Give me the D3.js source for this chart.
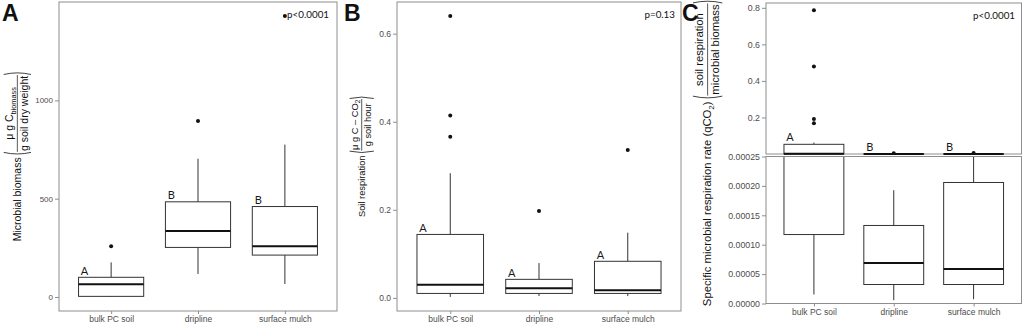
<!DOCTYPE html>
<html>
<head>
<meta charset="utf-8">
<script src="https://cdn.jsdelivr.net/npm/d3@7"></script>
<style>
  body { margin: 0; background: #fff; }
  svg { display: block; font-family: "Liberation Sans", Arial, sans-serif; }
</style>
</head>
<body>
<div id="wrapper"></div>
<script>
// categories shared by the three panels
const categories = ["bulk PC soil", "dripline", "surface mulch"];

// box stats are [lower whisker, Q1, median, Q3, upper whisker]
const biomassBoxes = [
    [0, 3, 64, 100, 176],
    [117, 252, 336, 484, 703],
    [66, 213, 258, 460, 775]
];
const biomassOutliers = [[258], [895], [1429]];
const biomassLetters = ["A", "B", "B"];
const biomassTicks = [0, 500, 1000];

const respBoxes = [
    [0.002, 0.010, 0.030, 0.144, 0.283],
    [0.004, 0.010, 0.022, 0.042, 0.079],
    [0.004, 0.010, 0.017, 0.083, 0.148]
];
const respOutliers = [[0.366, 0.414, 0.640], [0.197], [0.336]];
const respLetters = ["A", "A", "A"];
const respTicks = [0, 0.2, 0.4, 0.6];

const qco2Boxes = [
    [0.0000153, 0.0001173, 0.0015, 0.053, 0.0625],
    [0.0000056, 0.0000323, 0.000069, 0.0001327, 0.0001927],
    [0.0000073, 0.0000323, 0.0000588, 0.0002058, 0.0004]
];
const qco2Outliers = [[0.168, 0.191, 0.479, 0.787], [0.004], [0.006]];
const qco2Letters = ["A", "B", "B"];
const qco2UpperTicks = [0.2, 0.4, 0.6, 0.8];
const qco2LowerTicks = [0, 0.00005, 0.0001, 0.00015, 0.0002, 0.00025];
const qco2Break = 0.00025;

const panelNames = ["A", "B", "C"];
const pValues = ["p<0.0001", "p=0.13", "p<0.0001"];

const svg = d3.select("#wrapper")
    .append("svg")
    .attr("width", 1024)
    .attr("height", 326);

const frameColor = "#8e8e8e";
const boxColor = "#333";

function styleAxis(g, size) {
    g.select(".domain").remove();
    g.selectAll(".tick line").attr("stroke", frameColor);
    g.selectAll(".tick text")
        .attr("fill", "#4d4d4d")
        .style("font-size", size + "px")
        .style("font-family", "'Liberation Sans', Arial, sans-serif");
}

function drawBoxes(g, x, y, boxes, outliers, w) {
    boxes.forEach((b, i) => {
        const cx = x(categories[i]);
        const [lw, q1, med, q3, uw] = b;
        g.append("line").attr("x1", cx).attr("x2", cx)
            .attr("y1", y(lw)).attr("y2", y(q1))
            .attr("stroke", boxColor).attr("stroke-width", 1);
        g.append("line").attr("x1", cx).attr("x2", cx)
            .attr("y1", y(q3)).attr("y2", y(uw))
            .attr("stroke", boxColor).attr("stroke-width", 1);
        g.append("rect")
            .attr("x", cx - w / 2).attr("width", w)
            .attr("y", y(q3)).attr("height", Math.max(0, y(q1) - y(q3)))
            .attr("fill", "#fff").attr("stroke", boxColor).attr("stroke-width", 1);
        g.append("line")
            .attr("x1", cx - w / 2).attr("x2", cx + w / 2)
            .attr("y1", y(med)).attr("y2", y(med))
            .attr("stroke", "#111").attr("stroke-width", 2);
        g.selectAll(null).data(outliers[i]).enter().append("circle")
            .attr("cx", cx).attr("cy", d => y(d)).attr("r", 2)
            .attr("fill", "#111");
    });
}

function drawLetters(g, x, y, boxes, letters, w, lift) {
    g.selectAll(null).data(letters).enter().append("text")
        .attr("x", (d, i) => x(categories[i]) - w / 2 + 6)
        .attr("y", (d, i) => y(boxes[i][3]) - lift)
        .attr("text-anchor", "middle")
        .style("font-family", "Lato, 'Open Sans', sans-serif")
        .style("font-size", "11px")
        .attr("fill", "#1a1a1a")
        .text(d => d);
}

// rotated y title with a fraction in parentheses
function axisTitle(cfg) {
    const s = cfg.size;
    const g = svg.append("g")
        .attr("transform", `translate(${cfg.x},${cfg.y}) rotate(-90)`)
        .style("font-size", s + "px")
        .attr("fill", "#111");
    const addText = parts => {
        const t = g.append("text");
        let low = false;
        parts.forEach(([str, sub]) => {
            const ts = t.append("tspan").text(str);
            if (sub) {
                ts.style("font-size", (s * 0.7) + "px");
                if (!low) ts.attr("dy", s * 0.28);
                low = true;
            } else if (low) {
                ts.attr("dy", -s * 0.28);
                low = false;
            }
        });
        return t;
    };
    const mainT = addText(cfg.main);
    const numT = addText(cfg.num);
    const denT = addText(cfg.den);
    const mainW = mainT.node().getComputedTextLength();
    const fracW = Math.max(numT.node().getComputedTextLength(),
        denT.node().getComputedTextLength()) + s * 0.15;
    const parenW = s * 0.32;
    const gap = s * 0.2;
    const total = mainW + gap + parenW * 2 + fracW;
    const x0 = -total / 2;
    mainT.attr("x", x0);
    const fx = x0 + mainW + gap + parenW;
    const bar = -s * 0.3;
    numT.attr("x", fx + fracW / 2).attr("y", bar - s * 0.42).attr("text-anchor", "middle");
    denT.attr("x", fx + fracW / 2).attr("y", bar + s * 0.98).attr("text-anchor", "middle");
    g.append("line").attr("x1", fx).attr("x2", fx + fracW)
        .attr("y1", bar).attr("y2", bar)
        .attr("stroke", "#111").attr("stroke-width", 0.7);
    const top = bar - s * 1.3, bot = bar + s * 1.3;
    g.append("path")
        .attr("d", `M${fx - s * 0.05},${top} Q${fx - parenW * 1.1},${bar} ${fx - s * 0.05},${bot}`)
        .attr("fill", "none").attr("stroke", "#111").attr("stroke-width", 0.8);
    const rx = fx + fracW;
    g.append("path")
        .attr("d", `M${rx + s * 0.05},${top} Q${rx + parenW * 1.1},${bar} ${rx + s * 0.05},${bot}`)
        .attr("fill", "none").attr("stroke", "#111").attr("stroke-width", 0.8);
}

function panelLabel(name, x) {
    svg.append("text")
        .attr("x", x).attr("y", 21)
        .style("font-size", "23px").style("font-weight", "bold")
        .attr("fill", "#111")
        .text(name);
}

function pLabel(text, x, y) {
    svg.append("text")
        .attr("x", x).attr("y", y)
        .attr("text-anchor", "end")
        .style("font-family", "Lato, 'Open Sans', sans-serif")
        .style("font-size", "9.8px")
        .attr("fill", "#111")
        .text(text);
}

// panels A and B
function drawPanel(p) {
    const x = d3.scalePoint().domain(categories).range([p.left, p.right]).padding(0.6);
    const ext = d3.extent([...p.boxes.flat(), ...p.outliers.flat()]);
    const pad = (ext[1] - ext[0]) * 0.05;
    const y = d3.scaleLinear()
        .domain([ext[0] - pad, ext[1] + pad])
        .range([p.bottom, p.top]);
    const w = x.step() * 0.75;

    const bounds = svg.append("g");
    drawBoxes(bounds, x, y, p.boxes, p.outliers, w);
    drawLetters(bounds, x, y, p.boxes, p.letters, w, 2.5);

    bounds.append("rect")
        .attr("x", p.left).attr("y", p.top)
        .attr("width", p.right - p.left).attr("height", p.bottom - p.top)
        .attr("fill", "none").attr("stroke", frameColor).attr("stroke-width", 1);

    const yAxis = svg.append("g")
        .attr("transform", `translate(${p.left},0)`)
        .call(d3.axisLeft(y).tickValues(p.ticks).tickSize(4).tickPadding(2).tickFormat(p.fmt));
    styleAxis(yAxis, p.tickSize);

    const xAxis = svg.append("g")
        .attr("transform", `translate(0,${p.bottom})`)
        .call(d3.axisBottom(x).tickSize(3).tickPadding(2));
    styleAxis(xAxis, 8.5);
}

drawPanel({
    left: 59, right: 337, top: 2, bottom: 311,
    boxes: biomassBoxes, outliers: biomassOutliers, letters: biomassLetters,
    ticks: biomassTicks, fmt: d3.format("d"), tickSize: 8
});
drawPanel({
    left: 397, right: 681, top: 2, bottom: 311,
    boxes: respBoxes, outliers: respOutliers, letters: respLetters,
    ticks: respTicks, fmt: d3.format(".1f"), tickSize: 8.5
});

// panel C with a broken y axis
const cDim = { left: 766, right: 1021.5, upTop: 3, upBottom: 154, lowTop: 156.5, lowBottom: 303.5 };
const xC = d3.scalePoint().domain(categories).range([cDim.left, cDim.right]).padding(0.6);
const wC = xC.step() * 0.75;
const qMax = d3.max([...qco2Boxes.flat(), ...qco2Outliers.flat()]);
const yUp = d3.scaleLinear().domain([0, qMax * 1.05]).range([cDim.upBottom, cDim.upTop]);
const yLow = d3.scaleLinear().domain([0, qco2Break]).range([cDim.lowBottom, cDim.lowTop]);

const defs = svg.append("defs");
defs.append("clipPath").attr("id", "clipUp").append("rect")
    .attr("x", cDim.left).attr("y", cDim.upTop)
    .attr("width", cDim.right - cDim.left).attr("height", cDim.upBottom - cDim.upTop + 1);
defs.append("clipPath").attr("id", "clipLow").append("rect")
    .attr("x", cDim.left).attr("y", cDim.lowTop)
    .attr("width", cDim.right - cDim.left).attr("height", cDim.lowBottom - cDim.lowTop);

const upper = svg.append("g");
upper.append("rect")
    .attr("x", cDim.left).attr("y", cDim.upTop)
    .attr("width", cDim.right - cDim.left).attr("height", cDim.upBottom - cDim.upTop)
    .attr("fill", "none").attr("stroke", frameColor).attr("stroke-width", 1);
const upperMarks = upper.append("g").attr("clip-path", "url(#clipUp)");
drawBoxes(upperMarks, xC, yUp, qco2Boxes, qco2Outliers, wC);
drawLetters(upper, xC, yUp, qco2Boxes, qco2Letters, wC, 3);

const lower = svg.append("g");
const lowerMarks = lower.append("g").attr("clip-path", "url(#clipLow)");
drawBoxes(lowerMarks, xC, yLow, qco2Boxes, qco2Outliers, wC);
lower.append("rect")
    .attr("x", cDim.left).attr("y", cDim.lowTop)
    .attr("width", cDim.right - cDim.left).attr("height", cDim.lowBottom - cDim.lowTop)
    .attr("fill", "none").attr("stroke", frameColor).attr("stroke-width", 1);

const yUpAxis = svg.append("g")
    .attr("transform", `translate(${cDim.left},0)`)
    .call(d3.axisLeft(yUp).tickValues(qco2UpperTicks).tickSize(4).tickPadding(2).tickFormat(d3.format(".1f")));
styleAxis(yUpAxis, 8.8);
const yLowAxis = svg.append("g")
    .attr("transform", `translate(${cDim.left},0)`)
    .call(d3.axisLeft(yLow).tickValues(qco2LowerTicks).tickSize(4).tickPadding(2).tickFormat(d3.format(".5f")));
styleAxis(yLowAxis, 8.8);
const xCAxis = svg.append("g")
    .attr("transform", `translate(0,${cDim.lowBottom})`)
    .call(d3.axisBottom(xC).tickSize(3).tickPadding(2));
styleAxis(xCAxis, 8.5);

// titles
axisTitle({
    x: 20.5, y: 156.5, size: 10.5,
    main: [["Microbial biomass", false]],
    num: [["\u03bc g C", false], ["biomass", true]],
    den: [["g soil dry weight", false]]
});
axisTitle({
    x: 364.5, y: 156.5, size: 9.3,
    main: [["Soil respiration", false]],
    num: [["\u03bc g C \u2013 CO", false], ["2", true]],
    den: [["g soil hour", false]]
});
axisTitle({
    x: 711, y: 153, size: 11.3,
    main: [["Specific microbial respiration rate (qCO", false], ["2", true], [")", false]],
    num: [["soil respiration", false]],
    den: [["microbial biomass", false]]
});

panelLabel(panelNames[0], 2);
panelLabel(panelNames[1], 344);
panelLabel(panelNames[2], 682);

pLabel(pValues[0], 329, 18);
pLabel(pValues[1], 675, 18);
pLabel(pValues[2], 1015, 19);
</script>
</body>
</html>
